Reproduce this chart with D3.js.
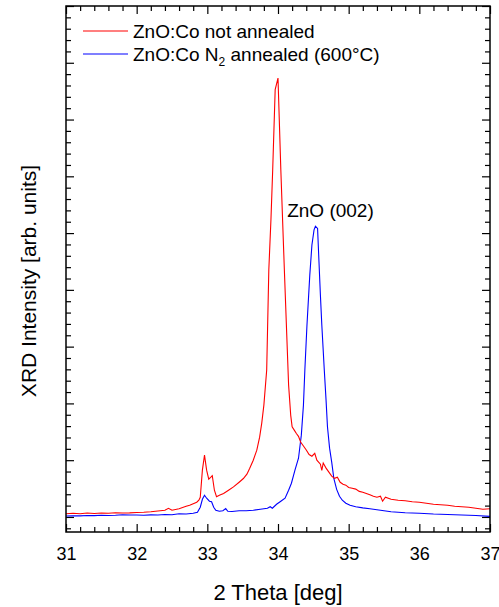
<!DOCTYPE html>
<html>
<head>
<meta charset="utf-8">
<script src="https://cdn.jsdelivr.net/npm/d3@7"></script>
<style>
  body { margin: 0; background: #fff; }
  text { font-family: Arial, "Liberation Sans", Helvetica, sans-serif; }
</style>
</head>
<body>
<div id="chart"></div>
<script>
// 2 theta positions (deg) and intensities
var notAnnealedTheta = [31.00,31.10,31.20,31.30,31.40,31.50,31.60,31.70,31.80,31.90,32.00,32.10,32.20,32.30,32.40,32.45,32.50,32.60,32.70,32.75,32.80,32.85,32.88,32.90,32.93,32.96,32.99,33.02,33.05,33.07,33.10,33.13,33.17,33.23,33.30,33.37,33.45,33.51,33.56,33.60,33.65,33.70,33.74,33.77,33.80,33.84,33.87,33.90,33.925,33.96,34.00,34.04,34.09,34.15,34.18,34.20,34.23,34.26,34.29,34.32,34.36,34.40,34.44,34.48,34.52,34.55,34.60,34.62,34.64,34.68,34.72,34.76,34.80,34.84,34.88,34.92,34.96,35.00,35.05,35.10,35.15,35.20,35.25,35.30,35.35,35.40,35.45,35.48,35.52,35.60,35.70,35.80,35.90,36.00,36.10,36.20,36.30,36.40,36.50,36.60,36.70,36.80,36.90,37.00];
var notAnnealedCounts = [56,65,56,69,62,69,65,74,69,72,78,83,92,104,118,153,118,145,189,206,233,259,295,347,824,1088,824,665,700,727,471,356,383,413,471,529,612,677,753,859,1000,1177,1406,1653,1970,2588,4352,5233,6115,7527,7730,6115,4352,2323,1790,1588,1530,1470,1420,1320,1250,1180,1100,1070,1120,1000,930,820,950,860,790,720,680,700,610,575,560,520,505,490,450,435,415,390,365,348,365,277,348,312,295,285,268,259,242,224,215,206,189,180,171,153,136,145];

var annealedTheta = [31.00,31.10,31.20,31.30,31.40,31.50,31.60,31.70,31.80,31.90,32.00,32.10,32.20,32.30,32.40,32.50,32.60,32.70,32.80,32.86,32.90,32.93,32.96,32.99,33.03,33.06,33.09,33.12,33.17,33.22,33.26,33.29,33.35,33.45,33.55,33.65,33.75,33.85,33.89,33.92,33.98,34.04,34.10,34.15,34.19,34.24,34.29,34.33,34.36,34.38,34.41,34.45,34.48,34.51,34.53,34.56,34.58,34.60,34.62,34.655,34.68,34.70,34.73,34.76,34.79,34.83,34.87,34.91,34.96,35.02,35.10,35.20,35.30,35.40,35.50,35.60,35.80,36.00,36.20,36.40,36.60,36.80,37.00];
var annealedCounts = [16,21,19,25,23,30,26,30,39,34,35,30,37,34,42,39,56,51,65,83,171,312,383,330,277,268,171,118,100,109,148,100,97,109,109,118,136,153,180,153,224,277,330,471,594,824,1035,1441,1970,2588,3382,4264,4790,5057,5120,5083,4490,3910,3382,2588,2058,1588,1212,965,680,486,365,295,242,206,180,160,145,128,109,92,74,65,51,44,34,25,10];

var seriesNames = ["ZnO:Co not annealed", "ZnO:Co N", "2", " annealed (600°C)"];
var xTickLabels = [31, 32, 33, 34, 35, 36, 37];
var yMajorTicks = [0, 1000, 2000, 3000, 4000, 5000, 6000, 7000, 8000, 9000];

var width = 499, height = 607;
var margin = { top: 6, right: 9, bottom: 75, left: 66 };
var w = width - margin.left - margin.right;
var h = height - margin.top - margin.bottom;

var svg = d3.select('#chart').append('svg')
  .attr('width', width)
  .attr('height', height);

var g = svg.append('g')
  .attr('transform', 'translate(' + margin.left + ',' + margin.top + ')');

var x = d3.scaleLinear().domain([31, 37]).range([0, w]);
var y = d3.scaleLinear().domain([-265, 9000]).range([h, 0]);

var xMinor = d3.range(31, 37.001, 0.2).filter(function(v) { return Math.abs(v - Math.round(v)) > 0.01; });
var yMinor = d3.range(-200, 9001, 200).filter(function(v) { return v % 1000 !== 0; });

function styleAxis(sel) {
  sel.select('.domain').remove();
  sel.selectAll('line').attr('stroke', '#000').attr('stroke-width', 1.2);
}

// bottom
g.append('g').attr('transform', 'translate(0,' + h + ')')
  .call(d3.axisBottom(x).tickValues(xTickLabels).tickFormat(d3.format('d'))
    .tickSizeInner(-8).tickSizeOuter(0).tickPadding(15))
  .call(styleAxis)
  .selectAll('text').attr('font-size', 18).attr('fill', '#000');
g.append('g').attr('transform', 'translate(0,' + h + ')')
  .call(d3.axisBottom(x).tickValues(xMinor).tickSizeInner(-5).tickSizeOuter(0).tickFormat(''))
  .call(styleAxis);
// top
g.append('g')
  .call(d3.axisTop(x).tickValues(xTickLabels).tickSizeInner(-8).tickSizeOuter(0).tickFormat(''))
  .call(styleAxis);
g.append('g')
  .call(d3.axisTop(x).tickValues(xMinor).tickSizeInner(-5).tickSizeOuter(0).tickFormat(''))
  .call(styleAxis);
// left
g.append('g')
  .call(d3.axisLeft(y).tickValues(yMajorTicks).tickSizeInner(-8).tickSizeOuter(0).tickFormat(''))
  .call(styleAxis);
g.append('g')
  .call(d3.axisLeft(y).tickValues(yMinor).tickSizeInner(-5).tickSizeOuter(0).tickFormat(''))
  .call(styleAxis);
// right
g.append('g').attr('transform', 'translate(' + w + ',0)')
  .call(d3.axisRight(y).tickValues(yMajorTicks).tickSizeInner(-8).tickSizeOuter(0).tickFormat(''))
  .call(styleAxis);
g.append('g').attr('transform', 'translate(' + w + ',0)')
  .call(d3.axisRight(y).tickValues(yMinor).tickSizeInner(-5).tickSizeOuter(0).tickFormat(''))
  .call(styleAxis);

svg.append('clipPath').attr('id', 'clip')
  .append('rect').attr('width', w).attr('height', h);

var line = d3.line()
  .x(function(d) { return x(d[0]); })
  .y(function(d) { return y(d[1]); });

var plot = g.append('g').attr('clip-path', 'url(#clip)');

plot.append('path')
  .datum(d3.zip(annealedTheta, annealedCounts))
  .attr('d', line)
  .attr('fill', 'none')
  .attr('stroke', '#0000ff')
  .attr('stroke-width', 1.1);

plot.append('path')
  .datum(d3.zip(notAnnealedTheta, notAnnealedCounts))
  .attr('d', line)
  .attr('fill', 'none')
  .attr('stroke', '#ff0000')
  .attr('stroke-width', 1.1);

// frame
g.append('rect')
  .attr('width', w).attr('height', h)
  .attr('fill', 'none').attr('stroke', '#000').attr('stroke-width', 1.5);

// legend
var legend = g.append('g');
legend.append('line').attr('x1', 17).attr('x2', 62).attr('y1', 25).attr('y2', 25)
  .attr('stroke', '#ff0000').attr('stroke-width', 1.1);
legend.append('text').attr('x', 67).attr('y', 31.5).attr('font-size', 19)
  .text(seriesNames[0]);
legend.append('line').attr('x1', 17).attr('x2', 62).attr('y1', 48).attr('y2', 48)
  .attr('stroke', '#0000ff').attr('stroke-width', 1.1);
var t2 = legend.append('text').attr('x', 67).attr('y', 55).attr('font-size', 19);
t2.append('tspan').text(seriesNames[1]);
t2.append('tspan').attr('font-size', 12).attr('dy', 5).text(seriesNames[2]);
t2.append('tspan').attr('dy', -5).text(seriesNames[3]);

// peak label
g.append('text').attr('x', x(34.13)).attr('y', y(5290)).attr('font-size', 19)
  .text('ZnO (002)');

// axis titles
svg.append('text')
  .attr('x', margin.left + w / 2).attr('y', 600)
  .attr('text-anchor', 'middle').attr('font-size', 22)
  .text('2 Theta [deg]');
svg.append('text')
  .attr('transform', 'translate(36,' + (margin.top + 275) + ') rotate(-90)')
  .attr('text-anchor', 'middle').attr('font-size', 21)
  .text('XRD Intensity [arb. units]');
</script>
</body>
</html>
